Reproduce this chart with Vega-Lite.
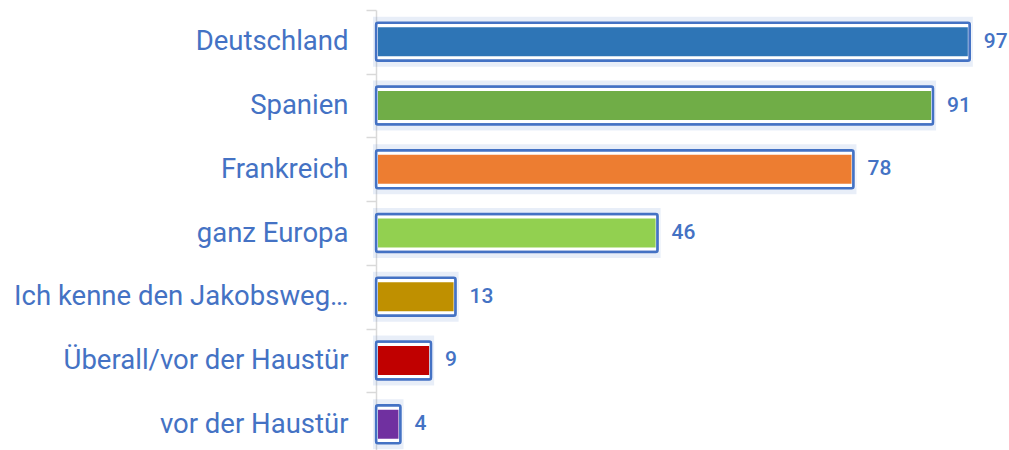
{
  "$schema": "https://vega.github.io/schema/vega-lite/v6.json",
  "autosize": "none",
  "padding": {"left": 376, "top": 10, "right": 0, "bottom": 0},
  "width": 633,
  "height": 446,
  "background": "white",
  "view": {"stroke": null},
  "data": {"values": [
    {"cat": "Deutschland", "v": 97, "c": "#2E75B6"},
    {"cat": "Spanien", "v": 91, "c": "#70AD47"},
    {"cat": "Frankreich", "v": 78, "c": "#ED7D31"},
    {"cat": "ganz Europa", "v": 46, "c": "#92D050"},
    {"cat": "Ich kenne den Jakobsweg…", "v": 13, "c": "#BF9000"},
    {"cat": "Überall/vor der Haustür", "v": 9, "c": "#C00000"},
    {"cat": "vor der Haustür", "v": 4, "c": "#7030A0"}
  ]},
  "encoding": {
    "y": {"field": "cat", "type": "nominal", "sort": null,
      "scale": {"paddingInner": 0, "paddingOuter": 0},
      "axis": {"title": null, "domainColor": "#d9d9d9", "domainWidth": 1.5, "tickColor": "#d9d9d9", "tickWidth": 1.5, "tickSize": 10, "tickBand": "extent", "labelPadding": 18, "labelFont": "Roboto", "labelFontSize": 27.5, "labelFontWeight": "normal", "labelColor": "#4472C4", "labelLimit": 400, "grid": false}},
    "x": {"field": "v", "type": "quantitative", "scale": {"domain": [0, 103.4], "nice": false}, "axis": null}
  },
  "layer": [
    {"mark": {"type": "bar", "height": 44, "fill": "transparent", "stroke": "#4472C4", "strokeWidth": 6, "strokeOpacity": 0.12}},
    {"mark": {"type": "bar", "height": 33, "stroke": "white", "strokeWidth": 4}, "encoding": {"color": {"field": "c", "type": "nominal", "scale": null}}},
    {"mark": {"type": "bar", "height": 38, "fill": "transparent", "stroke": "#4472C4", "strokeWidth": 2.5, "cornerRadius": 2}},
    {"mark": {"type": "text", "align": "left", "baseline": "middle", "dx": 14, "font": "Roboto", "fontSize": 21, "fontWeight": 500, "color": "#4472C4"}, "encoding": {"text": {"field": "v"}}}
  ]
}
